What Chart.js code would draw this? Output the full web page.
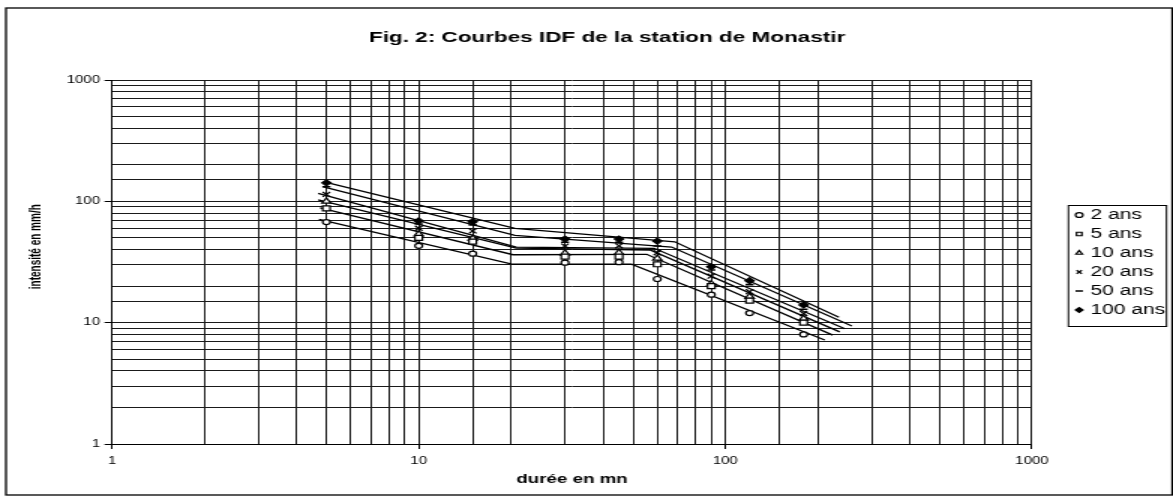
<!DOCTYPE html>
<html>
<head>
<meta charset="utf-8">
<script src="https://cdn.jsdelivr.net/npm/chart.js@4"></script>
<style>
body{margin:0;background:#fff;overflow:hidden;}
/* the original figure is stretched sideways, so the canvas is too */
#wrap{width:782px;height:501px;transform:scaleX(1.5);transform-origin:0 0;}
</style>
</head>
<body>
<div id="wrap"><canvas id="idfChart" width="782" height="501"></canvas></div>
<script>
const durations=[5,10,15,30,45,60,90,120,180];

const ans2=[67.5,43,37,31.2,31.5,22.9,17,12,8];
const ans5=[87.5,50,46.5,35,35,30.3,20,15.2,10];
const ans10=[100,53.7,49.5,37.3,37.7,33.9,20.8,16.4,10.8];
const ans20=[114,60,57,42.8,43,37.7,24.2,18,11.9];
const ans50=[132,65,64,46,46,42.8,27.2,20.6,12.9];
const ans100=[142,69,68,48.9,48.9,47,28.9,22.2,14];

// fitted curves (three pieces each)
const fitX2=[4.73,20.3,49.4,211];    const fitY2=[71,30.3,30.3,7.2];
const fitX5=[4.77,20.3,55.4,224];    const fitY5=[88.2,36.3,36.6,7.9];
const fitX10=[4.7,20.8,56.8,236];    const fitY10=[102.8,41.2,39.7,8.4];
const fitX20=[4.7,20.8,58.6,245.5];  const fitY20=[116.5,42,41,8.9];
const fitX50=[4.89,20.6,66.8,258.6]; const fitY50=[131.6,52.5,42,9.4];
const fitX100=[4.95,20.6,68.4,234.7];const fitY100=[143.7,59.8,46.4,11.1];

const tickLabels=[1,10,100,1000];

function pts(xs,ys){
return xs.map((x,i)=>({x:x,y:ys[i]}));
}

function markers(label,values,style,radius,fill,width){
return {
label:label,
data:pts(durations,values),
showLine:false,
pointStyle:style,
pointRadius:radius,
pointHoverRadius:radius,
pointBorderWidth:width||1.2,
pointBackgroundColor:fill,
pointBorderColor:"#000",
backgroundColor:fill,
borderColor:"#000"
};
}

function fitLine(xs,ys){
return {
label:"fit",
data:pts(xs,ys),
showLine:true,
pointRadius:0,
borderWidth:1.3,
borderColor:"#000",
fill:false
};
}

const framePlugin={
id:"frame",
afterLayout(chart){
// legend box sits a bit away from the plot, title a bit right
const lg=chart.legend;
const w=lg.width;
lg.left=chart.chartArea.right+26;
lg.right=lg.left+w;
lg.top+=7;
lg.bottom+=7;
const tb=chart.titleBlock;
tb.left+=15;
tb.right+=15;
},
afterDraw(chart){
const c=chart.ctx;
const boxes=chart.legend.legendHitBoxes;
const first=boxes[0];
const last=boxes[boxes.length-1];
c.save();
c.strokeStyle="#000";
c.lineWidth=1;
c.strokeRect(chart.legend.left-1.7,first.top-2.5,65.4,last.top+last.height+9.5-(first.top-2.5));
c.lineWidth=1.3;
c.strokeRect(4,8,777.5,487);
c.restore();
}
};

Chart.defaults.font.family="'Liberation Sans', Arial, sans-serif";
Chart.defaults.color="#000";

const ctx=document.getElementById("idfChart");

const chart=new Chart(ctx,{
type:"scatter",
data:{
datasets:[
markers("2 ans",ans2,"circle",2.5,"#fff"),
markers("5 ans",ans5,"rect",3.5,"#fff"),
markers("10 ans",ans10,"triangle",3.5,"#fff"),
markers("20 ans",ans20,"crossRot",3.5,"#fff"),
markers("50 ans",ans50,"line",2.7,"#000",1.6),
markers("100 ans",ans100,"rectRot",3,"#000"),
fitLine(fitX2,fitY2),
fitLine(fitX5,fitY5),
fitLine(fitX10,fitY10),
fitLine(fitX20,fitY20),
fitLine(fitX50,fitY50),
fitLine(fitX100,fitY100)
]
},
options:{
responsive:false,
animation:false,
devicePixelRatio:1,
layout:{padding:{left:18.7,right:21.2,top:10,bottom:0}},
plugins:{
title:{
display:true,
text:"Fig. 2: Courbes IDF de la station de Monastir",
font:{size:15,weight:"bold"},
color:"#000",
padding:{top:19,bottom:33}
},
legend:{
position:"right",
labels:{
usePointStyle:true,
boxWidth:1,
boxHeight:3.5,
padding:5,
color:"#000",
font:{size:14},
filter:item=>item.datasetIndex<6
}
},
tooltip:{enabled:false}
},
scales:{
x:{
type:"logarithmic",
min:1,
max:1000,
afterFit:s=>{s.height=57;},
border:{color:"#000",width:1},
grid:{
color:"#1a1a1a",
lineWidth:1,
tickLength:5,
tickColor:c=>c.tick&&tickLabels.includes(c.tick.value)?"#000":"rgba(0,0,0,0)"
},
ticks:{
autoSkip:false,
maxRotation:0,
padding:6,
color:"#000",
font:{size:10},
callback:v=>tickLabels.includes(v)?String(v):""
},
title:{
display:true,
text:"durée en mn",
color:"#000",
font:{size:12.5,weight:"bold"},
padding:{top:0,bottom:13.5}
}
},
y:{
type:"logarithmic",
min:1,
max:1000,
afterFit:s=>{s.width=56;},
border:{color:"#000",width:1},
grid:{
color:"#1a1a1a",
lineWidth:1,
tickLength:5,
tickColor:c=>c.tick&&tickLabels.includes(c.tick.value)?"#000":"rgba(0,0,0,0)"
},
ticks:{
autoSkip:false,
padding:3,
color:"#000",
font:{size:10},
callback:v=>tickLabels.includes(v)?String(v):""
},
title:{
display:true,
text:"\u00a0\u00a0\u00a0\u00a0\u00a0\u00a0\u00a0\u00a0\u00a0\u00a0\u00a0intensité en mm/h",
color:"#000",
font:{size:10,weight:"bold"},
padding:{top:0,bottom:0}
}
}
}
},
plugins:[framePlugin]
});
</script>
</body>
</html>
